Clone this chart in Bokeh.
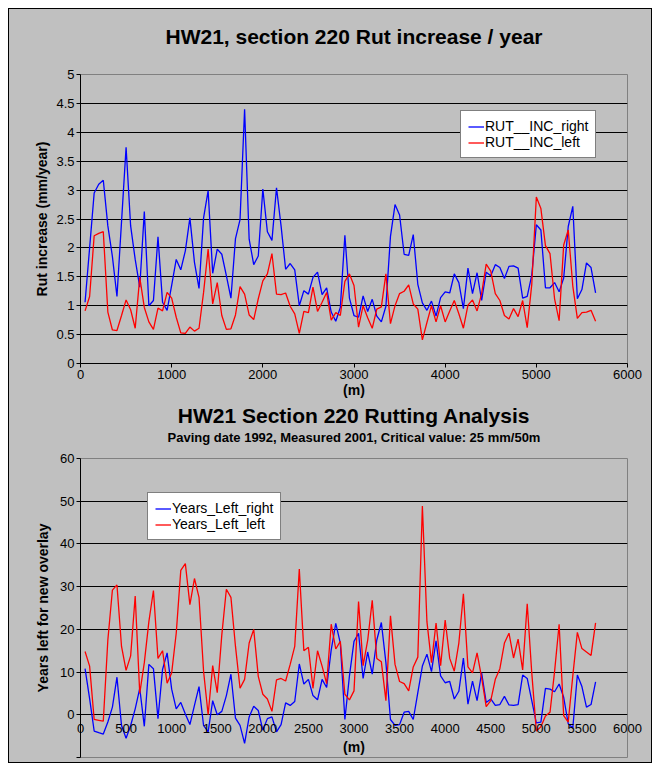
from bokeh.plotting import figure
from bokeh.models import Range1d, FixedTicker, Legend, LegendItem, Title, NumeralTickFormatter
from bokeh.layouts import column
from bokeh.embed import file_html
from bokeh.resources import INLINE

# ---------------- data ----------------
distance_m = [50, 100, 150, 200, 250, 300, 350, 400, 450, 500,
              550, 600, 650, 700, 750, 800, 850, 900, 950, 1000,
              1050, 1100, 1150, 1200, 1250, 1300, 1350, 1400, 1450, 1500,
              1550, 1600, 1650, 1700, 1750, 1800, 1850, 1900, 1950, 2000,
              2050, 2100, 2150, 2200, 2250, 2300, 2350, 2400, 2450, 2500,
              2550, 2600, 2650, 2700, 2750, 2800, 2850, 2900, 2950, 3000,
              3050, 3100, 3150, 3200, 3250, 3300, 3350, 3400, 3450, 3500,
              3550, 3600, 3650, 3700, 3750, 3800, 3850, 3900, 3950, 4000,
              4050, 4100, 4150, 4200, 4250, 4300, 4350, 4400, 4450, 4500,
              4550, 4600, 4650, 4700, 4750, 4800, 4850, 4900, 4950, 5000,
              5050, 5100, 5150, 5200, 5250, 5300, 5350, 5400, 5450, 5500,
              5550, 5600, 5650]

rut_inc_right = [1.06, 2.0, 2.95, 3.1, 3.17, 2.38, 1.85, 1.16, 2.45, 3.74,
                 2.38, 1.8, 1.32, 2.63, 1.0, 1.09, 2.19, 1.06, 0.92, 1.35,
                 1.8, 1.62, 1.95, 2.52, 1.75, 1.3, 2.52, 2.99, 1.56, 1.98,
                 1.89, 1.52, 1.13, 2.16, 2.49, 4.4, 2.15, 1.71, 1.86, 3.02,
                 2.28, 2.13, 3.04, 2.38, 1.63, 1.73, 1.62, 1.0, 1.26, 1.2,
                 1.49, 1.58, 1.19, 1.31, 0.89, 0.73, 0.97, 2.22, 1.13, 0.83,
                 0.80, 1.17, 0.90, 1.11, 0.82, 0.72, 0.99, 2.2, 2.75, 2.57,
                 1.89, 1.87, 2.23, 1.37, 1.05, 0.92, 1.08, 0.82, 1.14, 1.24,
                 1.22, 1.55, 1.40, 0.95, 1.65, 1.21, 1.57, 1.09, 1.58, 1.52,
                 1.71, 1.66, 1.47, 1.68, 1.69, 1.65, 1.13, 1.16, 1.53, 2.40,
                 2.31, 1.31, 1.31, 1.40, 1.24, 1.48, 2.37, 2.72, 1.12, 1.28,
                 1.74, 1.66, 1.22]

rut_inc_left = [0.91, 1.16, 2.21, 2.25, 2.28, 0.89, 0.58, 0.57, 0.83, 1.10,
                0.93, 0.61, 1.49, 0.97, 0.72, 0.59, 0.96, 0.91, 1.23, 1.13,
                0.80, 0.53, 0.52, 0.63, 0.56, 0.61, 1.23, 1.98, 1.03, 1.40,
                0.83, 0.59, 0.60, 0.84, 1.33, 1.20, 0.84, 0.76, 1.12, 1.43,
                1.55, 1.90, 1.20, 1.19, 1.22, 0.99, 0.86, 0.52, 0.90, 0.88,
                1.32, 0.90, 1.06, 1.23, 0.75, 0.88, 0.83, 1.42, 1.55, 1.35,
                0.63, 1.0, 0.79, 0.61, 0.94, 0.98, 1.55, 0.69, 1.0, 1.21,
                1.25, 1.36, 1.03, 0.94, 0.41, 0.71, 1.0, 0.72, 1.0, 0.72,
                0.91, 1.09, 0.86, 0.61, 1.01, 1.10, 0.91, 1.21, 1.72, 1.60,
                1.21, 1.09, 0.83, 0.77, 0.95, 0.81, 1.09, 0.62, 1.37, 2.88,
                2.68, 2.04, 1.90, 1.12, 0.74, 2.05, 2.31, 1.34, 0.78, 0.88,
                0.89, 0.92, 0.73]

years_left_right = [10.8, 3.8, -3.8, -4.2, -4.5, -1.7, 1.8, 8.8, -2.5, -5.5,
                    -2.5, 1.4, 6.2, -2.7, 11.8, 10.8, -0.9, 10.6, 14.5, 6.0,
                    1.4, 2.9, 0.2, -2.3, 2.2, 6.6, -2.5, -4.0, 3.3, 0.0,
                    0.8, 4.5, 9.5, -0.8, -2.5, -6.7, -0.5, 2.0, 1.0, -3.6,
                    -0.9, -0.5, -4.0, -2.3, 2.8, 2.2, 3.1, 11.9, 7.2, 8.3,
                    4.5, 3.5, 8.3, 6.4, 15.2, 21.4, 16.8, -1.1, 9.1, 17.2,
                    19.1, 8.5, 14.7, 9.5, 17.5, 21.6, 12.2, -1.1, -2.5, -2.3,
                    0.6, 0.8, -1.1, 5.2, 11.4, 14.2, 10.1, 17.3, 9.1, 7.5,
                    7.8, 3.7, 5.5, 13.3, 2.5, 7.9, 3.3, 9.8, 2.9, 3.7,
                    2.2, 2.4, 4.3, 2.3, 2.2, 2.4, 9.3, 8.5, 3.3, -1.9,
                    -1.7, 6.2, 6.0, 5.4, 7.2, 4.1, -2.1, -3.1, 9.3, 6.6,
                    1.8, 2.4, 7.7]

years_left_left = [14.8, 11.4, -1.1, -1.3, -1.5, 17.5, 29.2, 30.4, 16.0, 10.4,
                   13.8, 27.8, 5.0, 12.2, 21.8, 29.1, 13.2, 15.0, 7.4, 9.8,
                   19.1, 33.8, 35.4, 25.8, 31.9, 27.5, 10.2, 0.0, 11.5, 5.2,
                   18.7, 29.4, 27.5, 16.0, 6.2, 8.3, 16.8, 20.0, 9.0, 4.8,
                   3.7, 0.8, 8.2, 8.5, 7.9, 11.8, 16.0, 34.1, 15.0, 15.8,
                   6.2, 15.0, 11.4, 7.3, 21.2, 15.4, 17.2, 4.8, 3.5, 5.6,
                   26.5, 11.5, 17.4, 26.8, 13.2, 12.4, 3.3, 23.2, 11.8, 7.8,
                   7.3, 5.6, 11.2, 13.5, 48.9, 21.8, 12.2, 21.5, 11.5, 22.2,
                   13.2, 10.2, 16.8, 28.3, 11.2, 9.8, 14.5, 8.7, 1.9, 3.3,
                   8.3, 10.8, 16.8, 19.1, 13.3, 17.7, 10.5, 26.0, 9.8, -3.8,
                   -2.8, -0.3, 0.6, 10.1, 21.2, -0.2, -1.7, 9.1, 19.3, 15.5,
                   14.7, 13.9, 21.5]

top_x_ticks = [0, 1000, 2000, 3000, 4000, 5000, 6000]
top_y_ticks = [0, 0.5, 1, 1.5, 2, 2.5, 3, 3.5, 4, 4.5, 5]
bot_x_ticks = [0, 500, 1000, 1500, 2000, 2500, 3000, 3500, 4000, 4500, 5000, 5500, 6000]
bot_y_ticks = [-10, 0, 10, 20, 30, 40, 50, 60]

top_title = "HW21, section 220 Rut increase / year"
bot_title = "HW21 Section 220 Rutting Analysis"
bot_subtitle = "Paving date 1992, Measured 2001, Critical value: 25 mm/50m"

# ---------------- style ----------------
FONT = "Liberation Sans"
BG = "#C0C0C0"


def style_axes(p):
    p.background_fill_color = BG
    p.border_fill_color = BG
    p.outline_line_color = "#808080"
    p.outline_line_width = 1
    p.xgrid.visible = False
    p.ygrid.grid_line_color = "black"
    p.ygrid.grid_line_width = 1
    for ax in (p.xaxis[0], p.yaxis[0]):
        ax.axis_line_color = "black"
        ax.major_tick_line_color = "black"
        ax.major_tick_out = 4
        ax.major_tick_in = 0
        ax.minor_tick_line_color = None
        ax.major_label_text_font = FONT
        ax.major_label_text_font_size = "13px"
        ax.major_label_text_color = "black"
        ax.major_label_standoff = 2
        ax.axis_label_text_font = FONT
        ax.axis_label_text_font_size = "14px"
        ax.axis_label_text_font_style = "bold"
        ax.axis_label_text_color = "black"


def style_title(t, size, standoff):
    t.align = "center"
    t.text_font = FONT
    t.text_font_size = size
    t.text_font_style = "bold"
    t.text_color = "black"
    t.standoff = standoff


# ---------------- top chart ----------------
p1 = figure(width=642, height=391, output_backend="svg", toolbar_location=None,
            x_range=Range1d(0, 6000), y_range=Range1d(0, 5),
            min_border_left=71, min_border_right=24, min_border_top=65,
            min_border_bottom=0)
style_axes(p1)
# spacing block between heading and plot area
gap1 = Title(text=" ")
style_title(gap1, "20px", 0)
p1.add_layout(gap1, "above")
p1.title.text = top_title
style_title(p1.title, "21px", 6)
p1.xaxis.ticker = FixedTicker(ticks=top_x_ticks)
p1.yaxis.ticker = FixedTicker(ticks=top_y_ticks)
p1.ygrid.ticker = FixedTicker(ticks=top_y_ticks[1:-1])
p1.yaxis.formatter = NumeralTickFormatter(format="0.[0]")
p1.xaxis.axis_label = "(m)"
p1.xaxis.axis_label_standoff = 0
p1.yaxis.axis_label = "Rut increase (mm/year)"
p1.yaxis.axis_label_standoff = 3

r1 = p1.line(distance_m, rut_inc_right, line_color="#0000FF", line_width=1.3)
r2 = p1.line(distance_m, rut_inc_left, line_color="#FF0000", line_width=1.3)
leg1 = Legend(items=[LegendItem(label="RUT__INC_right", renderers=[r1]),
                     LegendItem(label="RUT__INC_left", renderers=[r2])],
              location=(380, 205))
p1.add_layout(leg1)

# ---------------- bottom chart ----------------
p2 = figure(width=642, height=362, output_backend="svg", toolbar_location=None,
            x_range=Range1d(0, 6000), y_range=Range1d(-10, 60),
            min_border_left=71, min_border_right=19, min_border_top=57,
            min_border_bottom=5)
style_axes(p2)
gap2 = Title(text=" ")
style_title(gap2, "10px", 0.6)
p2.add_layout(gap2, "above")
sub = Title(text=bot_subtitle)
style_title(sub, "13px", 0)
p2.add_layout(sub, "above")
p2.title.text = bot_title
style_title(p2.title, "21px", 2)

p2.xaxis.ticker = FixedTicker(ticks=bot_x_ticks)
# tick labels sit just under the zero line (inside the plot area)
p2.xaxis.axis_line_color = None
p2.xaxis.major_tick_out = 0
p2.xaxis.major_tick_in = 0
p2.xaxis.major_label_standoff = -34
p2.xaxis.axis_label = "(m)"
p2.xaxis.axis_label_standoff = 3
p2.yaxis.ticker = FixedTicker(ticks=bot_y_ticks)
p2.ygrid.ticker = FixedTicker(ticks=bot_y_ticks[1:])
p2.yaxis.major_label_overrides = {-10: ""}
p2.yaxis.axis_label = "Years left for new overlay"
p2.yaxis.axis_label_standoff = 6

r3 = p2.line(distance_m, years_left_right, line_color="#0000FF", line_width=1.3)
r4 = p2.line(distance_m, years_left_left, line_color="#FF0000", line_width=1.3)
leg2 = Legend(items=[LegendItem(label="Years_Left_right", renderers=[r3]),
                     LegendItem(label="Years_Left_left", renderers=[r4])],
              location=(67, 217))
p2.add_layout(leg2)

for leg in (leg1, leg2):
    leg.background_fill_color = "white"
    leg.background_fill_alpha = 1
    leg.border_line_color = "black"
    leg.border_line_width = 1
    leg.label_text_font = FONT
    leg.label_text_font_size = "14px"
    leg.label_text_color = "black"
    leg.glyph_width = 16
    leg.glyph_height = 15
    leg.label_height = 15
    leg.label_standoff = 1
    leg.spacing = 0
    leg.padding = 7
    leg.margin = 0

layout = column(p1, p2, spacing=0,
                styles={"border": "1px solid black", "margin": "8px",
                        "background-color": BG})
open("out.html", "w").write(file_html(layout, INLINE))
